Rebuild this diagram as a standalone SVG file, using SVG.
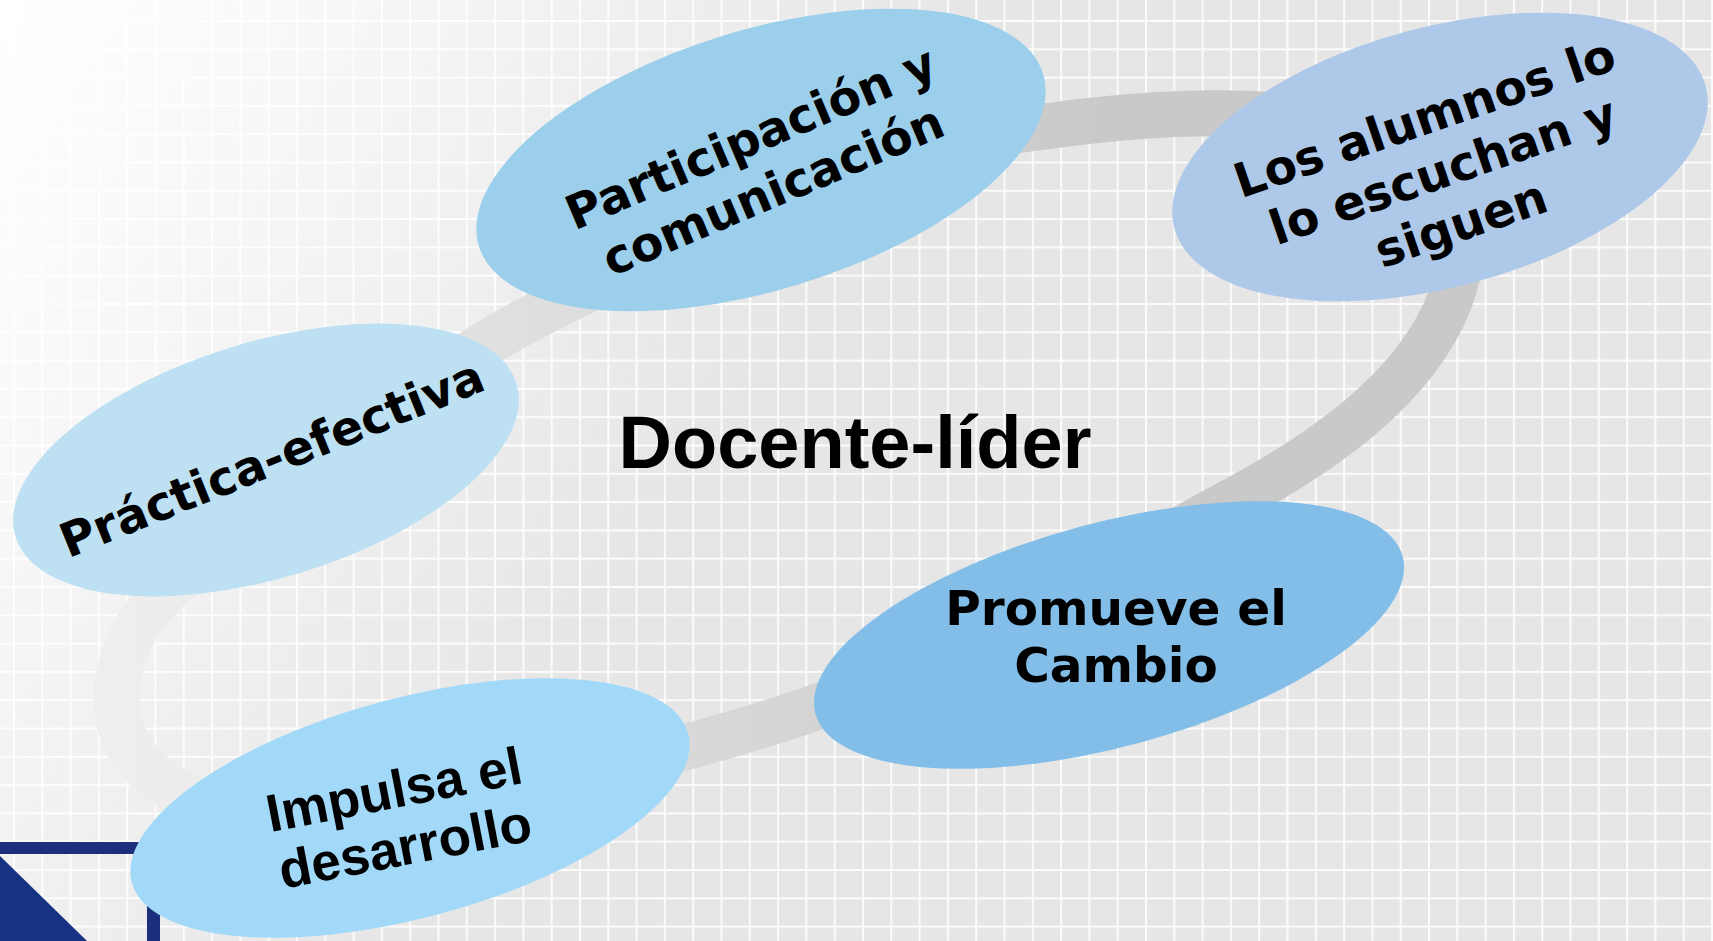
<svg xmlns="http://www.w3.org/2000/svg" width="1713" height="941" viewBox="0 0 1713 941">
  <defs>
    <linearGradient id="bg" gradientUnits="userSpaceOnUse" x1="0" y1="0" x2="700" y2="450">
      <stop offset="0" stop-color="#ffffff"/>
      <stop offset="0.2" stop-color="#fbfbfb"/>
      <stop offset="1" stop-color="#e6e6e6"/>
    </linearGradient>
    <pattern id="grid" patternUnits="userSpaceOnUse" x="13" y="20" width="28.3" height="28.3">
      <rect x="0" y="0" width="2" height="28.3" fill="#ffffff"/>
      <rect x="0" y="0" width="28.3" height="2" fill="#ffffff"/>
    </pattern>
    <linearGradient id="ring" gradientUnits="userSpaceOnUse" x1="120" y1="0" x2="1100" y2="0">
      <stop offset="0" stop-color="#eeeeee"/>
      <stop offset="1" stop-color="#c9c9c9"/>
    </linearGradient>
  </defs>
  <style>
    .lbl { font-family: "DejaVu Sans", Verdana, sans-serif; font-weight: bold; font-size: 47.5px; fill: #000000; text-anchor: middle; }
    .arial { font-family: "Liberation Sans", Arial, sans-serif; font-weight: bold; fill: #000000; text-anchor: middle; }
    .navy { fill: #1b2f7c; }
  </style>

  <rect x="0" y="0" width="1713" height="941" fill="url(#bg)"/>
  <rect x="0" y="0" width="1713" height="941" fill="url(#grid)" opacity="0.85"/>

  <g id="corner">
    <rect class="navy" x="0" y="842" width="160" height="12"/>
    <rect class="navy" x="147" y="842" width="13" height="99"/>
    <polygon points="0,856 87,941 0,941" fill="#163283"/>
  </g>

  <g id="connectors">
    <path d="M 240,812 C 170,800 118,760 117,703 C 116,650 140,610 190,570 C 290,490 417,379 520,324 C 620,271 899,140 1049,126 C 1250,98 1520,100 1450,300 C 1415,390 1320,455 1225,505 C 1120,562 950,660 820,706 C 700,748 400,830 240,812 Z" fill="none" stroke="url(#ring)" stroke-width="46"/>
  </g>

  <g id="node-participacion">
    <ellipse cx="761" cy="160" rx="295" ry="130" transform="rotate(-17 761 160)" fill="#9ccfeb"/>
    <g transform="translate(763,167) rotate(-23)">
      <text class="lbl"><tspan x="0" y="-15">Participación y</tspan><tspan x="0" y="42">comunicación</tspan></text>
    </g>
  </g>

  <g id="node-alumnos">
    <ellipse cx="1440" cy="157" rx="275" ry="130" transform="rotate(-15 1440 157)" fill="#adc8e8"/>
    <g transform="translate(1444,174) rotate(-19)">
      <text class="lbl"><tspan x="0" y="-43">Los alumnos lo</tspan><tspan x="0" y="13">lo escuchan y</tspan><tspan x="0" y="69">siguen</tspan></text>
    </g>
  </g>

  <g id="node-practica">
    <ellipse cx="266" cy="460" rx="262" ry="118" transform="rotate(-17 266 460)" fill="#bde0f3"/>
    <g transform="translate(272,459) rotate(-22)">
      <text class="lbl"><tspan x="0" y="16">Práctica-efectiva</tspan></text>
    </g>
  </g>

  <g id="node-promueve">
    <ellipse cx="1109" cy="635" rx="304" ry="112" transform="rotate(-15 1109 635)" fill="#83bee9"/>
    <text class="lbl" style="font-size:48.5px"><tspan x="1116" y="625">Promueve el</tspan><tspan x="1116" y="682">Cambio</tspan></text>
  </g>

  <g id="node-impulsa">
    <ellipse cx="410" cy="808" rx="288" ry="110" transform="rotate(-15 410 808)" fill="#a3d9f8"/>
    <g transform="translate(403,836) rotate(-11)">
      <text class="arial" style="font-size:53px"><tspan x="0" y="-29">Impulsa el</tspan><tspan x="0" y="29">desarrollo</tspan></text>
    </g>
  </g>

  <g id="node-docente">
    <text class="arial" x="855" y="468" style="font-size:74px">Docente-líder</text>
  </g>
</svg>
